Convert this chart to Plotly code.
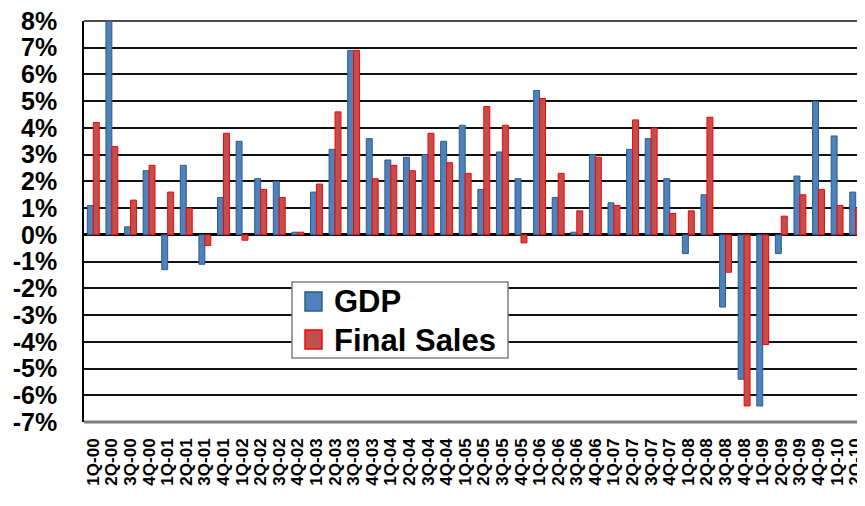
import plotly.graph_objects as go

# Quarterly growth, annualised %
quarters = [
    "1Q-00", "2Q-00", "3Q-00", "4Q-00",
    "1Q-01", "2Q-01", "3Q-01", "4Q-01",
    "1Q-02", "2Q-02", "3Q-02", "4Q-02",
    "1Q-03", "2Q-03", "3Q-03", "4Q-03",
    "1Q-04", "2Q-04", "3Q-04", "4Q-04",
    "1Q-05", "2Q-05", "3Q-05", "4Q-05",
    "1Q-06", "2Q-06", "3Q-06", "4Q-06",
    "1Q-07", "2Q-07", "3Q-07", "4Q-07",
    "1Q-08", "2Q-08", "3Q-08", "4Q-08",
    "1Q-09", "2Q-09", "3Q-09", "4Q-09",
    "1Q-10", "2Q-10",
]

gdp = [
    1.1, 8.0, 0.3, 2.4,
    -1.3, 2.6, -1.1, 1.4,
    3.5, 2.1, 2.0, 0.1,
    1.6, 3.2, 6.9, 3.6,
    2.8, 2.9, 3.0, 3.5,
    4.1, 1.7, 3.1, 2.1,
    5.4, 1.4, 0.1, 3.0,
    1.2, 3.2, 3.6, 2.1,
    -0.7, 1.5, -2.7, -5.4,
    -6.4, -0.7, 2.2, 5.0,
    3.7, 1.6,
]

final_sales = [
    4.2, 3.3, 1.3, 2.6,
    1.6, 1.0, -0.4, 3.8,
    -0.2, 1.7, 1.4, 0.1,
    1.9, 4.6, 6.9, 2.1,
    2.6, 2.4, 3.8, 2.7,
    2.3, 4.8, 4.1, -0.3,
    5.1, 2.3, 0.9, 2.9,
    1.1, 4.3, 4.0, 0.8,
    0.9, 4.4, -1.4, -6.4,
    -4.1, 0.7, 1.5, 1.7,
    1.1, 1.0,
]

y_ticks = [-7, -6, -5, -4, -3, -2, -1, 0, 1, 2, 3, 4, 5, 6, 7, 8]
y_tick_labels = ["-7%", "-6%", "-5%", "-4%", "-3%", "-2%", "-1%", "0%",
                 "1%", "2%", "3%", "4%", "5%", "6%", "7%", "8%"]

series_names = ["GDP", "Final Sales"]
fill_colors = ["#4F81BD", "#C0504D"]
edge_colors = ["#2C5D88", "#FF0000"]

font_family = "Liberation Sans, Arial, sans-serif"

fig = go.Figure()
for name, vals, fc, ec in zip(series_names, [gdp, final_sales], fill_colors, edge_colors):
    fig.add_trace(go.Bar(
        x=quarters, y=vals, name=name, showlegend=False,
        marker=dict(color=fc, line=dict(color=ec, width=1)),
    ))

# page body has an 8px default margin, so the figure is shrunk to fit the window
fig.update_layout(
    width=857, height=498,
    margin=dict(l=76, r=0, t=13, b=84),
    paper_bgcolor="white", plot_bgcolor="white",
    barmode="group", bargap=0.36, bargroupgap=0,
    font=dict(family=font_family, color="black"),
)

fig.update_xaxes(
    type="category", tickangle=-90,
    tickmode="array", tickvals=quarters, ticktext=quarters,
    tickfont=dict(size=17, weight="bold", family=font_family),
    showgrid=False, ticks="", ticklabelstandoff=12,
    showline=False, automargin=False, ticklabeloverflow="allow",
)

fig.update_yaxes(
    range=[-7, 8], tickmode="array", tickvals=y_ticks, ticktext=y_tick_labels,
    tickfont=dict(size=25, weight="bold", family=font_family),
    showgrid=True, gridcolor="#111111", gridwidth=1.5,
    zeroline=True, zerolinecolor="black", zerolinewidth=3,
    showline=True, linecolor="black", linewidth=1.5,
    ticks="", ticklabelstandoff=20, automargin=False,
    ticklabeloverflow="allow",
)

# Top gridline (8%) and bottom border of plot area (grey, thicker)
fig.add_shape(type="line", xref="paper", yref="paper",
              x0=0, x1=1, y0=1, y1=1,
              line=dict(color="#111111", width=1.5), layer="below")
fig.add_shape(type="line", xref="paper", yref="paper",
              x0=0, x1=1, y0=0, y1=0,
              line=dict(color="#7F7F7F", width=3))

# Legend box drawn by hand so its size matches the original
fig.add_shape(type="rect", xref="paper", yref="paper",
              x0=0.2663, x1=0.5429, y0=0.1596, y1=0.3491,
              fillcolor="white", line=dict(color="#7F7F7F", width=1.5))
legend_rows = [(0.2768, 0.3242, 0.2993), (0.182, 0.2294, 0.202)]
for (y0, y1, ty), name, fc, ec in zip(legend_rows, series_names, fill_colors, edge_colors):
    fig.add_shape(type="rect", xref="paper", yref="paper",
                  x0=0.283, x1=0.3047, y0=y0, y1=y1,
                  fillcolor=fc, line=dict(color=ec, width=1.5))
    fig.add_annotation(xref="paper", yref="paper", x=0.3175, y=ty,
                       xanchor="left", yanchor="middle", showarrow=False,
                       text=name, font=dict(size=31, weight="bold", family=font_family))

fig.write_html("out.html")
